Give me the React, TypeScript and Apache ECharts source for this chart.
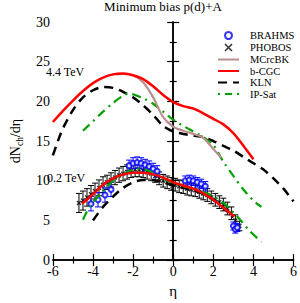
import React, { useEffect, useRef } from "react";
import * as echarts from "echarts";

const FONT = "'Liberation Serif', 'DejaVu Serif', serif";

// 4.4 TeV theory curves
const bcgcHiX = [-6, -5.5, -5, -4.5, -4, -3.5, -3, -2.5, -2, -1.5, -1, -0.5, 0, 0.5, 1, 1.5, 2, 2.5, 3, 3.5, 4];
const bcgcHiY = [17.4, 18.8, 20.1, 21.3, 22.3, 23.0, 23.4, 23.5, 23.3, 22.8, 21.9, 20.8, 19.9, 19.4, 19.1, 18.5, 17.8, 17.1, 16.0, 14.4, 12.7];
const mcrcHiX = [-2.8, -2.5, -2, -1.5, -1, -0.5, 0, 0.5, 1, 1.5, 2, 2.4];
const mcrcHiY = [23.4, 23.45, 23.3, 22.4, 20.5, 18.0, 16.8, 16.3, 15.9, 15.4, 14.0, 12.9];
const klnHiX = [-6, -5.75, -5.5, -5, -4.5, -4, -3.5, -3, -2.5, -2, -1.5, -1, -0.5, 0, 0.5, 1, 1.5, 2, 2.5, 3, 3.5, 4, 4.5, 5, 5.5, 6];
const klnHiY = [13.2, 15.0, 16.6, 18.9, 20.5, 21.4, 21.8, 21.7, 21.2, 20.5, 19.5, 18.3, 16.9, 16.2, 15.9, 15.7, 15.5, 15.0, 14.4, 13.8, 13.0, 12.2, 11.4, 10.3, 9.0, 7.4];
const ipsatHiX = [-4.5, -4, -3.5, -3, -2.5, -2.2, -2, -1.5, -1, -0.5, 0, 0.5, 1, 1.5, 2, 2.5, 3, 3.5, 4, 4.4];
const ipsatHiY = [16.3, 17.5, 18.7, 19.8, 20.7, 21.0, 20.9, 20.4, 19.7, 18.7, 17.7, 16.9, 16.2, 15.5, 14.5, 12.4, 10.6, 8.9, 7.5, 6.7];

// 0.2 TeV theory curves
const bcgcLoX = [-4.55, -4, -3.5, -3, -2.5, -2, -1.5, -1, -0.5, 0, 0.5, 1, 1.5, 2, 2.5, 3.05];
const bcgcLoY = [7.1, 8.3, 9.5, 10.3, 10.8, 11.0, 11.0, 10.8, 10.4, 9.8, 9.4, 9.0, 8.4, 7.6, 6.6, 5.5];
const klnLoX = [-4.0, -3.5, -3.0, -2.5, -2.0, -1.5, -1.0, -0.5, 0, 0.5, 1.0, 1.5, 2.0, 2.5, 3.0];
const klnLoY = [5.0, 6.7, 8.0, 9.1, 9.8, 10.1, 10.1, 9.8, 9.4, 9.1, 8.8, 8.3, 7.6, 6.6, 5.4];
const ipsatLoX = [-4.5, -4.2, -3.9, -3.6, -3.3, -3.0, -2.6, -2.2, -1.8, -1.4, -1.0, -0.5, 0, 0.5, 1.0, 1.5, 2.0, 2.5, 3.0, 3.4, 3.8, 4.4];
const ipsatLoY = [5.1, 6.6, 7.6, 8.4, 9.2, 10.0, 10.6, 11.2, 11.5, 11.4, 11.0, 10.3, 9.7, 9.3, 9.0, 8.6, 8.0, 7.2, 6.0, 4.9, 3.7, 2.3];

// PHOBOS d+Au 200 GeV
const phobosX = [-4.7, -4.5, -4.3, -4.1, -3.9, -3.7, -3.5, -3.3, -3.1, -2.9, -2.7, -2.5, -2.3, -2.1, -1.9, -1.7, -1.5, -1.3, -1.1, -0.9, -0.7, -0.5, -0.3, -0.1, 0.1, 0.3, 0.5, 0.7, 0.9, 1.1, 1.3, 1.5, 1.7, 1.9, 2.1, 2.3, 2.5, 2.7, 2.9, 3.1, 3.3];
const phobosY = [7.2, 7.5, 7.9, 8.3, 8.7, 9.1, 9.5, 9.8, 10.1, 10.4, 10.7, 10.9, 11.1, 11.3, 11.4, 11.4, 11.3, 11.1, 10.9, 10.6, 10.3, 10.0, 9.8, 9.6, 9.5, 9.3, 9.2, 9.0, 8.9, 8.8, 8.6, 8.4, 8.2, 7.9, 7.6, 7.3, 7.0, 6.5, 5.9, 5.0, 4.3];
const phobosErr = [1.2, 1.2, 1.1, 1.1, 1.0, 1.0, 1.0, 0.9, 0.9, 0.9, 0.9, 0.9, 0.9, 0.9, 0.9, 0.9, 0.9, 0.9, 0.9, 0.8, 0.8, 0.8, 0.8, 0.8, 0.8, 0.8, 0.8, 0.8, 0.8, 0.8, 0.8, 0.8, 0.8, 0.8, 0.8, 0.8, 0.8, 0.8, 0.8, 0.7, 0.6];

// BRAHMS d+Au 200 GeV
const brahmsX = [-4.1, -3.75, -3.4, -3.1, -2.2, -2.0, -1.8, -1.6, -1.4, -1.2, -1.0, -0.8, 0.6, 0.8, 1.0, 1.2, 1.4, 1.6, 3.0, 3.1, 3.2];
const brahmsY = [7.1, 7.6, 8.2, 8.9, 11.9, 12.2, 12.3, 12.2, 12.0, 11.8, 11.5, 11.2, 10.0, 10.1, 10.0, 9.8, 9.6, 9.3, 4.3, 3.9, 4.1];
const brahmsErr = [0.9, 0.9, 0.9, 0.9, 0.7, 0.7, 0.7, 0.7, 0.7, 0.7, 0.7, 0.7, 0.6, 0.6, 0.6, 0.6, 0.6, 0.6, 0.5, 0.5, 0.5];

const legendNames = ["BRAHMS", "PHOBOS", "MCrcBK", "b-CGC", "KLN", "IP-Sat"];

const xTicks = { min: -6, max: 6, interval: 2 };
const yTicks = { min: 0, max: 30, interval: 5 };

const pairs = (xs: number[], ys: number[]) => xs.map((x, i) => [x, ys[i]]);
const triples = (xs: number[], ys: number[], es: number[]) => xs.map((x, i) => [x, ys[i], es[i]]);

function errRender(color: string, cap: number, width: number) {
  return (params: any, api: any) => {
    const x = api.value(0);
    const y = api.value(1);
    const e = api.value(2);
    const top = api.coord([x, y + e]);
    const bot = api.coord([x, y - e]);
    const style = { stroke: color, lineWidth: width };
    return {
      type: "group",
      children: [
        { type: "line", shape: { x1: top[0], y1: top[1], x2: bot[0], y2: bot[1] }, style },
        { type: "line", shape: { x1: top[0] - cap, y1: top[1], x2: top[0] + cap, y2: top[1] }, style },
        { type: "line", shape: { x1: bot[0] - cap, y1: bot[1], x2: bot[0] + cap, y2: bot[1] }, style },
      ],
    };
  };
}

export default function App() {
  const ref = useRef<HTMLDivElement>(null);
  useEffect(() => {
    document.body.style.margin = "0";
    if (!ref.current) return;
    const chart = echarts.init(ref.current, null, { renderer: "svg" });
    const axisCommon = {
      axisLine: { lineStyle: { color: "#000", width: 1.5 } },
      axisTick: { inside: true, length: 6, lineStyle: { color: "#000", width: 1.2 } },
      minorTick: { show: true, splitNumber: 2, length: 3.5, lineStyle: { color: "#000", width: 1.2 } },
      splitLine: { show: false },
    };
    const red = "#ff0000";
    const brown = "#bc8f8f";
    const green = "#00a000";
    const hidden = { color: "rgba(0,0,0,0)", borderWidth: 0, opacity: 0 };
    const lineSeries = (name: string, data: number[][], color: string, width: number, type: any) => ({
      name,
      type: "line",
      data,
      symbol: "none",
      smooth: 0.3,
      clip: true,
      itemStyle: { color },
      lineStyle: { color, width, type },
    });
    chart.setOption({
      animation: false,
      grid: { left: 36, right: 5, top: 22, bottom: 31, containLabel: false },
      xAxis: [
        {
          type: "value",
          position: "bottom",
          ...xTicks,
          ...axisCommon,
          axisLabel: { fontFamily: FONT, fontSize: 14, color: "#000", margin: 4 },
          name: "η",
          nameLocation: "middle",
          nameGap: 16,
          nameTextStyle: { fontFamily: FONT, fontSize: 15, color: "#000" },
        },
        {
          type: "value",
          position: "top",
          ...xTicks,
          ...axisCommon,
          axisLabel: { show: false },
        },
      ],
      yAxis: [
        {
          type: "value",
          position: "left",
          ...yTicks,
          ...axisCommon,
          axisLabel: { fontFamily: FONT, fontSize: 14, color: "#000", margin: 3 },
          name: "{a|dN}{b|ch}{a|/dη}",
          nameLocation: "middle",
          nameGap: 23,
          nameTextStyle: {
            fontFamily: FONT,
            color: "#000",
            rich: {
              a: { fontFamily: FONT, fontSize: 14, color: "#000", lineHeight: 16, verticalAlign: "bottom" },
              b: { fontFamily: FONT, fontSize: 9.5, color: "#000", lineHeight: 16, verticalAlign: "bottom", padding: [0, 0, -3, 0] },
            },
          },
        },
        {
          type: "value",
          position: "right",
          ...yTicks,
          ...axisCommon,
          axisLabel: { show: false },
        },
      ],
      legend: {
        orient: "vertical",
        left: 212,
        top: 25,
        itemWidth: 21,
        itemHeight: 7,
        itemGap: 0.5,
        textStyle: { fontFamily: FONT, fontSize: 10.5, color: "#000", padding: [0, 0, 0, 6], lineHeight: 10 },
        data: [
          { name: legendNames[0], icon: "emptyCircle", itemStyle: { color: "#0000ff", borderColor: "#0000ff", borderWidth: 1.5 } },
          { name: legendNames[1], icon: "path://M0,0L10,10M10,0L0,10", itemStyle: { color: "none", borderColor: "#000", borderWidth: 1.5 } },
          { name: legendNames[2], itemStyle: hidden },
          { name: legendNames[3], itemStyle: hidden },
          { name: legendNames[4], itemStyle: hidden },
          { name: legendNames[5], itemStyle: hidden, lineStyle: { type: [2, 5, 7, 5], dashOffset: 0 } },
        ],
      },
      graphic: [
        { type: "text", x: 163, y: 0, style: { text: "Minimum bias p(d)+A", fontFamily: FONT, fontSize: 13, fill: "#000", textAlign: "center" } },
        { type: "text", x: 46, y: 66, style: { text: "4.4 TeV", fontFamily: FONT, fontSize: 12, fill: "#000" } },
        { type: "text", x: 47, y: 172, style: { text: "0.2 TeV", fontFamily: FONT, fontSize: 12, fill: "#000" } },
      ],
      series: [
        {
          type: "custom",
          name: "phobosErr",
          data: triples(phobosX, phobosY, phobosErr),
          encode: { x: 0, y: 1 },
          renderItem: errRender("#000", 3, 1),
          z: 2,
        },
        {
          name: "PHOBOS",
          type: "scatter",
          data: pairs(phobosX, phobosY),
          symbol: "path://M0,0L10,10M10,0L0,10",
          symbolSize: 4,
          itemStyle: { color: "none", borderColor: "#000", borderWidth: 1.3 },
          z: 3,
        },
        {
          type: "custom",
          name: "brahmsErr",
          data: triples(brahmsX, brahmsY, brahmsErr),
          encode: { x: 0, y: 1 },
          renderItem: errRender("#0000ff", 3, 1),
          z: 4,
        },
        {
          name: "BRAHMS",
          type: "scatter",
          data: pairs(brahmsX, brahmsY),
          symbol: "emptyCircle",
          symbolSize: 5,
          itemStyle: { color: "#0000ff", borderColor: "#0000ff", borderWidth: 1.1 },
          z: 5,
        },
        { ...lineSeries("KLN", pairs(klnHiX, klnHiY), "#000", 2.5, [9, 6]), z: 6 },
        { ...lineSeries("KLN", pairs(klnLoX, klnLoY), "#000", 2.5, [9, 6]), z: 6 },
        { ...lineSeries("IP-Sat", pairs(ipsatHiX, ipsatHiY), green, 2.2, [9, 5, 2, 5]), z: 7 },
        { ...lineSeries("IP-Sat", pairs(ipsatLoX, ipsatLoY), green, 2.2, [9, 5, 2, 5]), z: 7 },
        { ...lineSeries("MCrcBK", pairs(mcrcHiX, mcrcHiY), brown, 2.2, "solid"), z: 8 },
        { ...lineSeries("b-CGC", pairs(bcgcHiX, bcgcHiY), red, 2.5, "solid"), z: 9 },
        { ...lineSeries("b-CGC", pairs(bcgcLoX, bcgcLoY), red, 2.5, "solid"), z: 9 },
      ],
    });
    return () => chart.dispose();
  }, []);
  return <div ref={ref} style={{ width: 300, height: 303 }} />;
}
